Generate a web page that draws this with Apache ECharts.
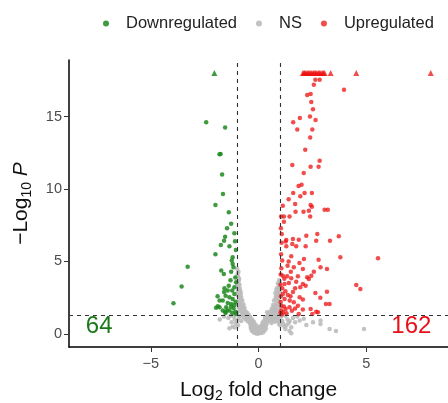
<!DOCTYPE html>
<html>
<head>
<meta charset="utf-8">
<script src="https://cdn.jsdelivr.net/npm/echarts@6/dist/echarts.min.js"></script>
<style>
    html, body {margin: 0; padding: 0; background: #fff;}
    #volcano {width: 448px; height: 403px;}
</style>
</head>
<body>
<div id="volcano"></div>
<script>
// 火山图：log2FC 为横轴，-log10(P) 为纵轴

// 阈值
var fFcCutoff = 1;
var fPCutoff = 0.05;
var fYCap = 18; // 超出的点画成三角形，压在 18 上

// 下调 (Downregulated)
var aDownPoints = [
    [-2.43, 14.6], [-1.55, 14.25], [-1.81, 12.4], [-1.76, 12.42], [-1.69, 11.0],
    [-1.65, 9.65], [-2.0, 8.9], [-1.38, 8.4], [-1.27, 7.6], [-1.46, 7.3],
    [-1.12, 6.95], [-1.55, 6.7], [-1.6, 6.43], [-1.75, 6.14], [-1.35, 6.05],
    [-1.09, 6.4], [-1.05, 5.8], [-2.0, 5.5], [-1.2, 5.3], [-1.24, 5.06],
    [-3.29, 4.64], [-1.2, 4.83], [-1.16, 4.6], [-1.73, 4.37], [-1.61, 4.14],
    [-1.27, 4.3], [-1.08, 3.9], [-1.3, 3.7], [-3.57, 3.28], [-1.04, 3.56],
    [-1.38, 3.33], [-1.12, 3.22], [-1.58, 3.15], [-1.43, 2.99], [-1.22, 2.99],
    [-1.6, 2.9], [-1.12, 2.76], [-1.53, 2.64], [-1.9, 2.6], [-1.35, 2.53],
    [-1.2, 2.41], [-1.81, 2.3], [-1.66, 2.3], [-1.07, 2.23], [-1.43, 2.14],
    [-3.95, 2.12], [-1.27, 2.07], [-1.12, 2.0], [-1.89, 1.91], [-1.28, 1.88],
    [-1.5, 1.84], [-1.97, 1.8], [-1.16, 1.77], [-1.35, 1.61], [-1.66, 1.61],
    [-1.45, 1.62], [-1.07, 1.54], [-1.55, 1.54], [-1.22, 1.45], [-1.53, 1.45],
    [-1.04, 1.38], [-1.81, 1.84]
];
var aDownCappedX = [-2.05];

// 上调 (Upregulated)
var aUpPoints = [
    [2.64, 17.54], [2.84, 17.54], [2.57, 17.2], [3.97, 16.85], [2.26, 16.48],
    [2.42, 16.55], [2.45, 16.0], [2.53, 15.5], [1.92, 14.9], [2.39, 15.0],
    [1.61, 14.6], [2.65, 14.76], [1.8, 14.1], [2.5, 14.1], [2.4, 13.56],
    [2.17, 12.7], [2.84, 11.95], [1.57, 11.66], [2.42, 11.54], [2.79, 11.54],
    [2.1, 11.1], [1.86, 10.2], [2.0, 10.3], [1.61, 9.72], [2.14, 9.72],
    [2.48, 9.72], [1.94, 9.5], [1.4, 9.3], [1.13, 8.85], [1.7, 8.97],
    [2.42, 8.9], [2.48, 8.78], [2.09, 8.43], [2.34, 8.5], [3.07, 8.57],
    [3.22, 8.57], [1.72, 8.43], [1.18, 8.11], [1.44, 8.11], [2.4, 8.11],
    [1.05, 8.1], [1.18, 7.74], [1.04, 7.3], [1.08, 6.9], [1.26, 6.37],
    [1.29, 6.48], [1.6, 6.55], [1.87, 6.5], [2.22, 6.78], [2.73, 6.9],
    [2.68, 6.43], [3.32, 6.43], [3.73, 6.74], [1.07, 6.3], [1.57, 6.2],
    [1.75, 6.05], [1.29, 6.05], [2.19, 6.05], [1.05, 5.5], [1.52, 5.36],
    [2.11, 5.17], [2.79, 5.12], [3.8, 5.29], [5.55, 5.22], [1.1, 5.06],
    [1.4, 5.0], [1.9, 4.9], [1.35, 4.7], [1.06, 4.53], [1.64, 4.6],
    [2.06, 4.48], [2.88, 4.6], [3.18, 4.48], [1.5, 4.3], [1.03, 4.1],
    [1.13, 4.02], [1.33, 3.98], [1.52, 3.84], [1.83, 3.98], [2.26, 3.91],
    [2.45, 4.02], [2.57, 4.3], [2.34, 3.79], [1.2, 3.8], [1.75, 3.6],
    [4.54, 3.38], [4.73, 3.1], [1.21, 3.45], [1.41, 3.52], [2.06, 3.45],
    [2.19, 3.33], [1.02, 3.4], [1.1, 3.15], [1.7, 3.15], [1.94, 3.22],
    [1.25, 2.95], [1.6, 2.9], [2.64, 2.83], [3.18, 2.92], [2.87, 2.5],
    [1.13, 2.76], [1.36, 2.69], [1.49, 2.6], [1.04, 2.6], [1.91, 2.53],
    [2.06, 2.37], [1.21, 2.41], [1.45, 2.3], [3.3, 2.07], [3.13, 2.07],
    [1.64, 2.19], [1.03, 2.2], [1.83, 1.95], [1.18, 1.9], [1.44, 1.84],
    [2.42, 1.72], [1.7, 1.75], [2.68, 1.54], [2.06, 1.68], [1.26, 1.72],
    [1.06, 1.95], [1.06, 1.61], [1.55, 1.6], [1.87, 1.38], [2.5, 1.38],
    [2.76, 1.5], [1.02, 1.45], [1.08, 1.35], [1.15, 1.5], [1.3, 1.42]
];
var aUpCappedX = [2.06, 2.11, 2.15, 2.2, 2.26, 2.31, 2.36, 2.43, 2.48, 2.54,
    2.6, 2.65, 2.71, 2.78, 2.83, 2.9, 2.96, 3.02, 3.07, 3.35, 4.54, 8.0];

// 不显著 (NS)
var aNsPoints = [
    // V 字底部
    [-0.05, 0.02], [0.03, 0.05], [0.1, 0.1], [-0.12, 0.12], [0.18, 0.2],
    [-0.2, 0.22], [0.0, 0.15], [0.08, 0.28], [-0.08, 0.3], [0.25, 0.35],
    [-0.27, 0.38], [0.15, 0.42], [-0.16, 0.45], [0.32, 0.5], [-0.34, 0.52],
    [0.05, 0.4], [-0.02, 0.25], [0.22, 0.6], [-0.24, 0.62], [0.38, 0.7],
    [-0.4, 0.72], [0.12, 0.55], [-0.1, 0.58], [0.28, 0.78], [-0.3, 0.8],
    [-0.18, 0.7], [0.18, 0.72], [0.02, 0.48], [-0.33, 0.3], [0.3, 0.25],
    [-0.14, 0.05], [0.14, 0.06], [-0.22, 0.1], [0.22, 0.12], [-0.06, 0.18],
    [0.07, 0.2], [-0.3, 0.2], [0.34, 0.4], [-0.36, 0.42], [0.26, 0.5],
    [-0.26, 0.52], [0.35, 0.62], [-0.36, 0.62], [0.1, 0.35], [-0.13, 0.38],
    // 中段
    [-0.22, 0.85], [-0.35, 0.9], [-0.5, 0.88], [-0.3, 1.0], [-0.45, 1.05],
    [-0.6, 1.0], [-0.38, 1.15], [-0.55, 1.2], [-0.7, 1.15], [-0.45, 1.3],
    [-0.62, 1.35], [-0.75, 1.4], [-0.52, 1.45], [-0.85, 1.25], [-0.92, 1.1],
    [-0.55, 1.1], [-0.65, 1.25], [-0.4, 0.95], [-0.58, 1.4], [-0.5, 1.0],
    [-0.28, 0.9], [-0.42, 1.2], [-0.8, 0.9],
    [0.22, 0.85], [0.35, 0.92], [0.5, 0.9], [0.65, 0.95], [0.3, 1.02],
    [0.45, 1.08], [0.6, 1.1], [0.8, 1.05], [0.95, 1.0], [0.38, 1.2],
    [0.55, 1.25], [0.72, 1.22], [0.9, 1.2], [0.48, 1.38], [0.65, 1.4],
    [0.82, 1.35], [0.98, 1.45], [0.75, 0.85], [0.88, 0.9], [0.42, 0.95],
    [0.52, 1.05], [0.68, 1.05], [0.85, 1.12], [0.6, 1.3], [0.3, 1.12],
    [0.45, 1.28], [0.6, 0.75], [0.95, 0.7],
    // 左臂
    [-0.6, 1.55], [-0.72, 1.65], [-0.85, 1.6], [-0.65, 1.8], [-0.8, 1.9],
    [-0.92, 1.85], [-0.7, 2.05], [-0.85, 2.15], [-0.97, 2.1], [-0.75, 2.3],
    [-0.9, 2.4], [-0.8, 2.55], [-0.95, 2.65], [-0.82, 2.8], [-0.93, 2.95],
    [-0.86, 3.1], [-0.97, 3.2], [-0.88, 3.4], [-0.96, 3.6], [-0.9, 3.8],
    [-0.98, 4.0], [-0.93, 4.3], [-0.99, 4.5], [-0.78, 2.0], [-0.68, 1.7],
    [-0.99, 1.5], [-0.96, 2.9], [-0.92, 3.3], [-0.68, 1.5], [-0.77, 1.55],
    [-0.88, 1.75], [-0.74, 1.9], [-0.83, 2.0], [-0.9, 2.25], [-0.8, 2.35],
    [-0.87, 2.6], [-0.9, 2.75], [-0.85, 2.95], [-0.94, 3.05], [-0.99, 3.45],
    [-0.92, 3.65], [-0.95, 3.95], [-0.97, 4.15],
    // 右臂
    [0.55, 1.55], [0.7, 1.6], [0.85, 1.62], [0.97, 1.7], [0.62, 1.75],
    [0.78, 1.85], [0.92, 1.95], [0.68, 2.0], [0.84, 2.1], [0.97, 2.2],
    [0.72, 2.3], [0.88, 2.4], [0.8, 2.55], [0.95, 2.65], [0.78, 2.8],
    [0.9, 2.95], [0.85, 3.15], [0.97, 3.3], [0.9, 3.5], [0.96, 3.7],
    [0.4, 1.5], [0.99, 2.9], [0.75, 1.45], [0.9, 1.55], [0.63, 1.62],
    [0.8, 1.72], [0.72, 1.9], [0.88, 2.05], [0.93, 2.3], [0.82, 2.45],
    [0.86, 2.7], [0.92, 2.8], [0.83, 3.0], [0.93, 3.1], [0.95, 3.4],
    [0.99, 3.6],
    // 阈值外但不显著
    [1.1, 0.9], [1.2, 0.5], [1.35, 1.0], [1.4, 0.75], [1.52, 0.46],
    [1.52, 0.05], [1.6, 1.1], [1.8, 1.2], [1.91, 0.92], [2.1, 1.05],
    [2.22, 0.62], [2.53, 0.8], [2.88, 0.92], [2.88, 0.69], [3.3, 0.34],
    [3.6, 0.2], [4.9, 0.34], [1.05, 1.2], [1.25, 1.25], [1.44, 0.2],
    [1.0, 0.6], [1.15, 0.7], [1.3, 0.6], [1.45, 0.9], [1.7, 0.8], [1.25, 0.35],
    [-1.05, 0.7], [-1.1, 1.0], [-1.2, 0.5], [-1.25, 0.8], [-1.35, 0.4],
    [-1.4, 1.1], [-1.6, 1.2], [-1.8, 1.0], [-1.15, 1.2], [-1.3, 1.25],
    [-1.0, 0.9], [-1.1, 0.45], [-0.95, 0.6]
];

// 左下角、右下角的计数
var aCountLabels = [
    {'text': '64', 'value': [-7.4, 0.55], 'color': '#1a7a1a'},
    {'text': '162', 'value': [7.1, 0.55], 'color': '#e8111a'}
];

var aXTicks = [-5, 0, 5];
var aYTicks = [0, 5, 10, 15];

var sFont = 'Liberation Sans, Arial, Helvetica, sans-serif';

function CappedToItems(aX) {
    var aItems = new Array();
    for (var i = 0; i < aX.length; i++) {
        aItems.push({'value': [aX[i], fYCap], 'symbol': 'triangle', 'symbolSize': 6});
    }
    return aItems
}

function GetOption() {
    var fPLine = -Math.log10(fPCutoff);
    var jLineStyle = {color: '#333', width: 1.1, type: [4, 4]};
    var jTitleRich = {
        a: {fontSize: 21, color: '#111', lineHeight: 26, fontFamily: sFont},
        s: {fontSize: 14, color: '#111', lineHeight: 15, verticalAlign: 'bottom', fontFamily: sFont},
        p: {fontSize: 21, color: '#111', lineHeight: 26, fontStyle: 'italic', fontFamily: sFont}
    };

    var jOption = {
        animation: false,
        textStyle: {fontFamily: sFont},
        legend: {
            top: 10,
            left: 98,
            icon: 'circle',
            itemWidth: 30,
            itemHeight: 6,
            itemGap: 19,
            data: ['Downregulated', 'NS', 'Upregulated'],
            textStyle: {fontSize: 16.5, color: '#222', fontFamily: sFont}
        },
        grid: {left: 69, right: 0, top: 60, bottom: 56, containLabel: false, outerBoundsMode: 'none'},
        xAxis: {
            type: 'value',
            min: -8.8,
            max: 8.8,
            splitLine: {show: false},
            axisLine: {onZero: false, lineStyle: {color: '#000', width: 1.5}},
            axisTick: {show: true, length: 5, customValues: aXTicks, lineStyle: {color: '#333'}},
            axisLabel: {customValues: aXTicks, fontSize: 14.5, color: '#4d4d4d', margin: 9,
                formatter: function (v) { return v < 0 ? '\u2212' + Math.abs(v) : String(v); }},
            name: '{a|Log}{s|2}{a| fold change}',
            nameLocation: 'middle',
            nameGap: 30,
            nameTextStyle: {rich: jTitleRich}
        },
        yAxis: {
            type: 'value',
            min: -0.9,
            max: 18.9,
            splitLine: {show: false},
            axisLine: {onZero: false, lineStyle: {color: '#000', width: 1.5}},
            axisTick: {show: true, length: 5, customValues: aYTicks, lineStyle: {color: '#333'}},
            axisLabel: {customValues: aYTicks, fontSize: 14.5, color: '#4d4d4d', margin: 7},
            name: '{a|\u2212Log}{s|10}{p| P}',
            nameLocation: 'middle',
            nameGap: 35,
            nameRotate: 90,
            nameTextStyle: {rich: jTitleRich}
        },
        series: [
            {
                name: 'NS',
                type: 'scatter',
                symbolSize: 4.5,
                itemStyle: {color: '#bdbdbd', opacity: 0.9},
                data: aNsPoints,
                z: 2
            },
            {
                name: 'Downregulated',
                type: 'scatter',
                symbolSize: 4.5,
                itemStyle: {color: '#1f8a1f', opacity: 0.85},
                data: aDownPoints.concat(CappedToItems(aDownCappedX)),
                z: 3
            },
            {
                name: 'Upregulated',
                type: 'scatter',
                symbolSize: 4.5,
                itemStyle: {color: '#EE1111', opacity: 0.75},
                data: aUpPoints.concat(CappedToItems(aUpCappedX)),
                z: 3
            },
            {//阈值虚线
                name: 'cutoff',
                type: 'scatter',
                data: [],
                z: 4,
                markLine: {
                    silent: true,
                    symbol: ['none', 'none'],
                    label: {show: false},
                    lineStyle: jLineStyle,
                    data: [{xAxis: -fFcCutoff}, {xAxis: fFcCutoff}, {yAxis: fPLine}]
                }
            },
            {//计数文字
                name: 'counts',
                type: 'scatter',
                symbolSize: 0,
                silent: true,
                z: 5,
                itemStyle: {opacity: 1},
                data: aCountLabels.map(function (o) {
                    return {
                        value: o.value,
                        label: {show: true, position: 'inside', formatter: o.text, opacity: 1,
                            fontSize: 24, color: o.color, fontFamily: sFont}
                    };
                })
            }
        ]
    };
    return jOption
}

function SetOption(jOption, sTagID) {
    var objectDom = document.getElementById(sTagID);
    var myChart = echarts.init(objectDom, null, {renderer: 'canvas'});
    myChart.setOption(jOption);
    return myChart
}

SetOption(GetOption(), 'volcano');
</script>
</body>
</html>
